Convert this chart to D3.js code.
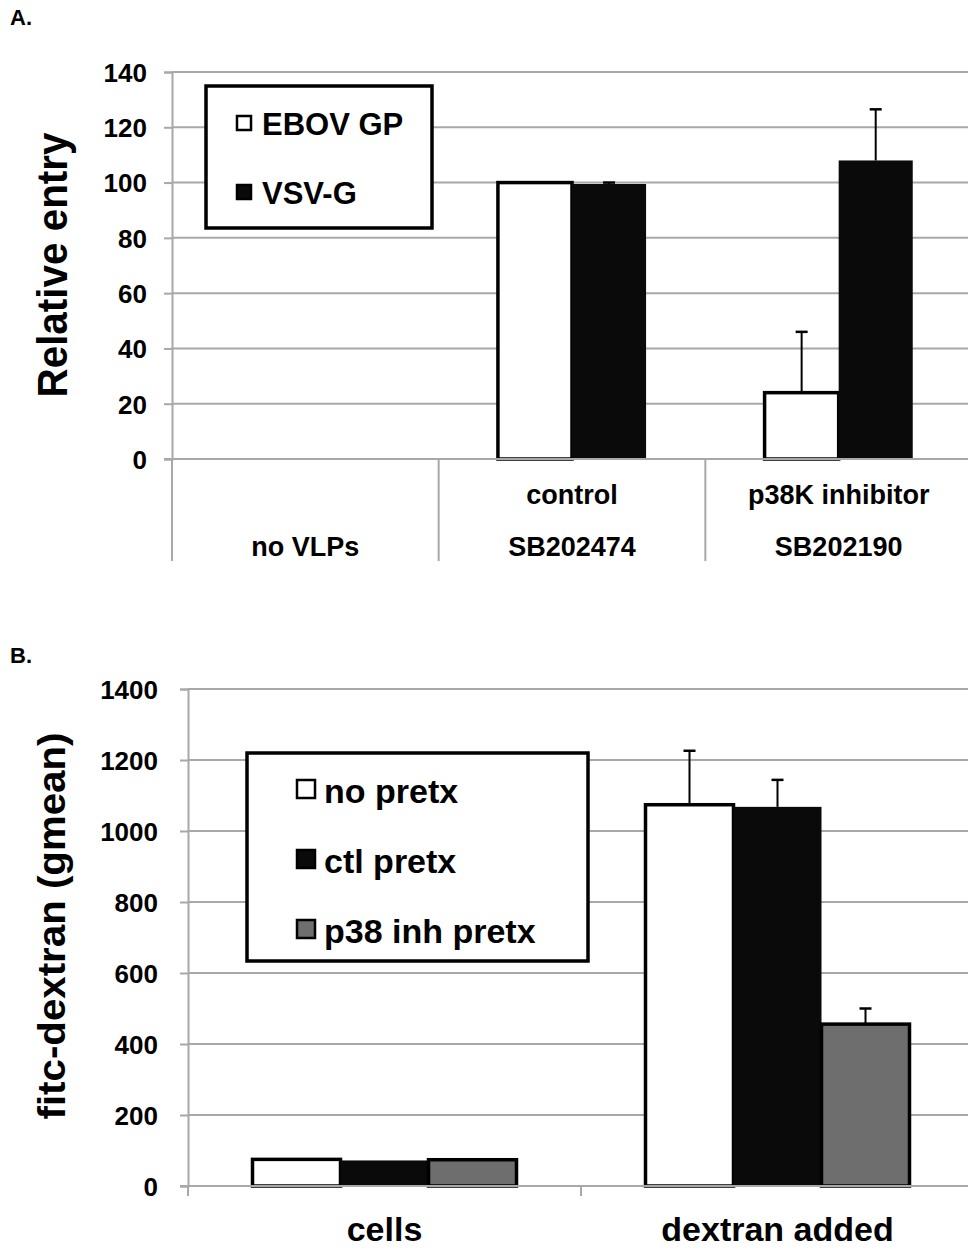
<!DOCTYPE html>
<html>
<head>
<meta charset="utf-8">
<script src="https://cdn.jsdelivr.net/npm/d3@7"></script>
<style>
  body { margin: 0; background: #fff; }
  text { font-family: "Liberation Sans", Arial, sans-serif; font-weight: bold; fill: #000; }
</style>
</head>
<body>
<svg id="chart" width="968" height="1250"></svg>
<script>
// ---- panel A data ----
var catsA = ["no VLPs", "control\nSB202474", "p38K inhibitor\nSB202190"];
var seriesA = ["EBOV GP", "VSV-G"];
var ebovA = [null, 100, 24];
var ebovErrA = [null, 0, 22];
var vsvA = [null, 99.5, 108];
var vsvErrA = [null, 0.5, 18.5];
var ticksA = [0, 20, 40, 60, 80, 100, 120, 140];

// ---- panel B data ----
var catsB = ["cells", "dextran added"];
var seriesB = ["no pretx", "ctl pretx", "p38 inh pretx"];
var noPretx = [75, 1074];
var noPretxErr = [0, 152];
var ctlPretx = [72, 1068];
var ctlPretxErr = [0, 76];
var p38Pretx = [74, 456];
var p38PretxErr = [0, 44];
var ticksB = [0, 200, 400, 600, 800, 1000, 1200, 1400];

var fills = {"EBOV GP": "#ffffff", "VSV-G": "#0a0a0b",
             "no pretx": "#ffffff", "ctl pretx": "#0a0a0b", "p38 inh pretx": "#6e6e6e"};
var gridColor = "#a8a8a8";

var svg = d3.select("#chart");

function barPanel(g, o) {
    var x = d3.scaleBand().domain(o.cats).range([o.left, o.right]);
    var xs = d3.scaleBand().domain(o.series).range([0, x.bandwidth()])
        .paddingOuter(o.outer);
    var y = d3.scaleLinear().domain([0, o.max]).range([o.bottom, o.top]);

    // gridlines
    g.append("g").selectAll("line").data(o.ticks.filter(function(t){ return t > 0; }))
        .enter().append("line")
        .attr("x1", o.left).attr("x2", 968)
        .attr("y1", function(d){ return y(d); }).attr("y2", function(d){ return y(d); })
        .attr("stroke", gridColor).attr("stroke-width", 2);

    // y axis
    var yAxis = d3.axisLeft(y).tickValues(o.ticks).tickFormat(d3.format("d"))
        .tickSize(8).tickPadding(o.tickPad);
    var ya = g.append("g").attr("transform", "translate(" + o.left + ",0)").call(yAxis);
    ya.select(".domain").attr("stroke", gridColor).attr("stroke-width", 2);
    ya.selectAll(".tick line").attr("stroke", gridColor).attr("stroke-width", 2);
    ya.selectAll(".tick text").attr("font-size", o.tickFont).attr("dy", "0.36em")
        .style("font-family", "'Liberation Sans', Arial, sans-serif").style("font-weight", "bold");

    // bars
    var rows = [];
    o.series.forEach(function(s, si) {
        o.cats.forEach(function(c, ci) {
            var v = o.values[si][ci];
            if (v == null) return;
            rows.push({s: s, c: c, v: v, e: o.errors[si][ci]});
        });
    });
    var bars = g.append("g").selectAll("g.bar").data(rows).enter().append("g").classed("bar", true);
    bars.append("rect")
        .attr("x", function(d){ return x(d.c) + xs(d.s); })
        .attr("width", xs.bandwidth())
        .attr("y", function(d){ return y(d.v); })
        .attr("height", function(d){ return y(0) - y(d.v); })
        .attr("fill", function(d){ return fills[d.s]; })
        .attr("stroke", "#000")
        .attr("stroke-width", function(d){ return fills[d.s] == "#0a0a0b" ? 0 : 3.5; });
    // upper error bars
    var eb = bars.filter(function(d){ return d.e > 0.4; });
    eb.append("line")
        .attr("x1", function(d){ return x(d.c) + xs(d.s) + xs.bandwidth() / 2; })
        .attr("x2", function(d){ return x(d.c) + xs(d.s) + xs.bandwidth() / 2; })
        .attr("y1", function(d){ return y(d.v); })
        .attr("y2", function(d){ return y(d.v + d.e); })
        .attr("stroke", "#000").attr("stroke-width", 2);
    eb.append("line")
        .attr("x1", function(d){ return x(d.c) + xs(d.s) + xs.bandwidth() / 2 - 6; })
        .attr("x2", function(d){ return x(d.c) + xs(d.s) + xs.bandwidth() / 2 + 6; })
        .attr("y1", function(d){ return y(d.v + d.e); })
        .attr("y2", function(d){ return y(d.v + d.e); })
        .attr("stroke", "#000").attr("stroke-width", 2.5);

    // x axis line + category dividers
    g.append("line").attr("x1", o.left - 8).attr("x2", 968)
        .attr("y1", y(0)).attr("y2", y(0))
        .attr("stroke", gridColor).attr("stroke-width", 2);
    g.append("g").selectAll("line").data(o.cats).enter().append("line")
        .attr("x1", function(d){ return x(d); }).attr("x2", function(d){ return x(d); })
        .attr("y1", y(0)).attr("y2", y(0) + o.divLen)
        .attr("stroke", gridColor).attr("stroke-width", 2);

    // category labels (multi-line, bottom aligned)
    var lab = g.append("g").selectAll("text").data(o.cats).enter().append("text")
        .attr("text-anchor", "middle")
        .attr("font-size", o.catFont);
    lab.each(function(d) {
        var lines = d.split("\n");
        var t = d3.select(this);
        lines.forEach(function(l, i) {
            t.append("tspan")
                .attr("x", x(d) + x.bandwidth() / 2)
                .attr("y", o.catBase - (lines.length - 1 - i) * o.catGap)
                .text(l);
        });
    });

    // y title
    g.append("text")
        .attr("transform", "translate(" + o.titleX + "," + o.titleY + ") rotate(-90)")
        .attr("text-anchor", "middle")
        .attr("font-size", o.titleFont)
        .attr("textLength", o.titleLen).attr("lengthAdjust", "spacingAndGlyphs")
        .text(o.title);

    // legend
    var lg = g.append("g");
    lg.append("rect").attr("x", o.leg.x).attr("y", o.leg.y)
        .attr("width", o.leg.w).attr("height", o.leg.h)
        .attr("fill", "#fff").attr("stroke", "#000").attr("stroke-width", 3.5);
    var items = lg.selectAll("g.item").data(o.series).enter().append("g").classed("item", true)
        .attr("transform", function(d, i){
            return "translate(" + (o.leg.x + o.leg.padX) + "," + (o.leg.y + o.leg.first + i * o.leg.gap) + ")";
        });
    items.append("rect")
        .attr("x", 0).attr("y", -o.leg.sq - o.leg.sqLift)
        .attr("width", o.leg.sq).attr("height", o.leg.sq)
        .attr("fill", function(d){ return fills[d]; })
        .attr("stroke", "#000").attr("stroke-width", 2.5);
    items.append("text")
        .attr("x", o.leg.sq + o.leg.textGap).attr("y", 0)
        .attr("font-size", o.leg.font)
        .text(function(d){ return d; });
}

// panel labels
svg.append("text").attr("x", 10).attr("y", 25).attr("font-size", 22).text("A.");
svg.append("text").attr("x", 10).attr("y", 663).attr("font-size", 22).text("B.");

barPanel(svg.append("g"), {
    cats: catsA, series: seriesA,
    values: [ebovA, vsvA], errors: [ebovErrA, vsvErrA],
    left: 172, right: 972, outer: 0.8, top: 72, bottom: 459, max: 140,
    ticks: ticksA, tickFont: 26, tickPad: 17,
    divLen: 102, catFont: 27, catBase: 556, catGap: 52,
    title: "Relative entry", titleX: 67, titleY: 265, titleFont: 42, titleLen: 265,
    leg: {x: 206, y: 86, w: 226, h: 142, padX: 31, first: 49, gap: 69, sq: 14, sqLift: 5,
          textGap: 11, font: 31}
});

barPanel(svg.append("g"), {
    cats: catsB, series: seriesB,
    values: [noPretx, ctlPretx, p38Pretx], errors: [noPretxErr, ctlPretxErr, p38PretxErr],
    left: 188, right: 974, outer: 0.733, top: 689, bottom: 1186, max: 1400,
    ticks: ticksB, tickFont: 26, tickPad: 22,
    divLen: 10, catFont: 34, catBase: 1241, catGap: 0,
    title: "fitc-dextran (gmean)", titleX: 65, titleY: 926, titleFont: 38, titleLen: 387,
    leg: {x: 247, y: 753, w: 341, h: 208, padX: 50, first: 50, gap: 70, sq: 18, sqLift: 5,
          textGap: 9, font: 34}
});
</script>
</body>
</html>
